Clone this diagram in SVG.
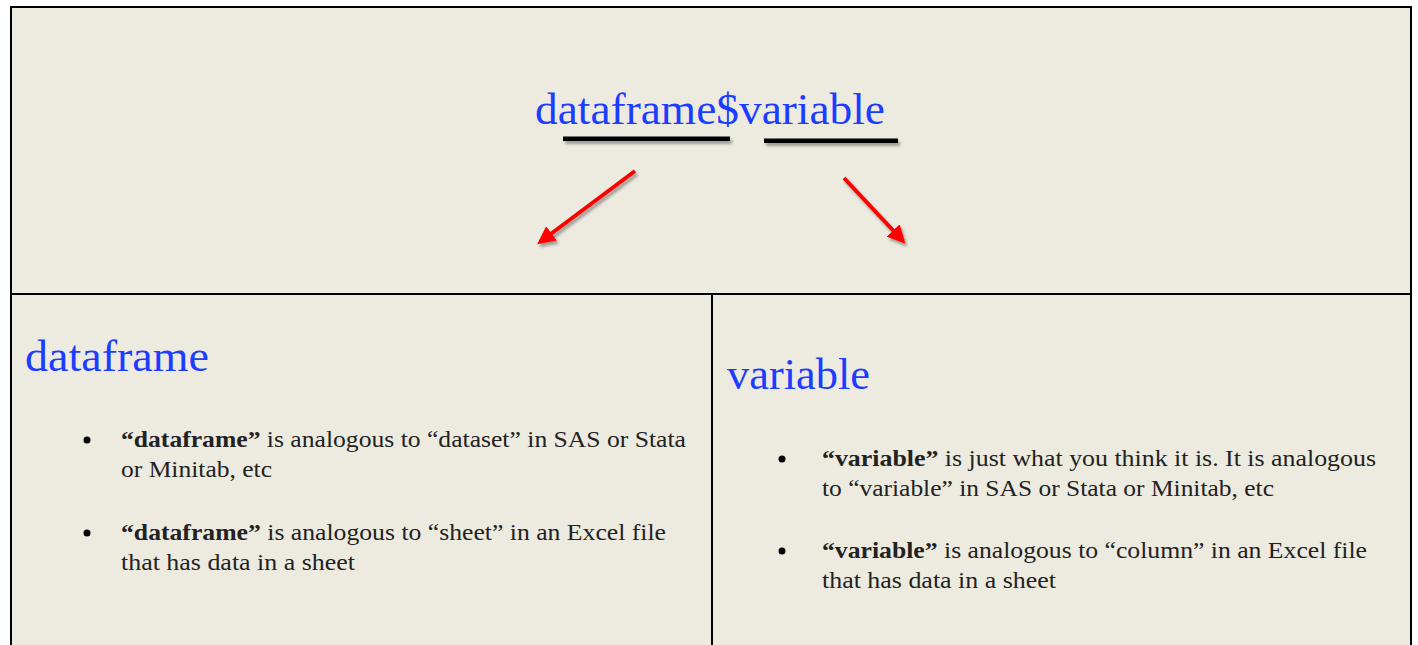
<svg xmlns="http://www.w3.org/2000/svg" width="1418" height="645" viewBox="0 0 1418 645">
  <style>
    .frame { fill: none; stroke: #000; stroke-width: 2; }
    .head { font-family: "Liberation Serif", "DejaVu Serif", serif; fill: #1c3dff; font-size: 45px; }
    .body { font-family: "Liberation Serif", "DejaVu Serif", serif; fill: #222; font-size: 24px; }
    .body .b { font-weight: bold; }
    .bar { fill: #000; filter: url(#shadow); }
    .arrow { stroke: #ff0000; stroke-width: 4; fill: none; marker-end: url(#head); filter: url(#shadow); }
  </style>
  <defs>
    <filter id="shadow" filterUnits="userSpaceOnUse" x="0" y="0" width="1418" height="645">
      <feGaussianBlur in="SourceAlpha" stdDeviation="1.5"/>
      <feOffset dx="1.5" dy="2.5" result="b"/>
      <feComponentTransfer><feFuncA type="linear" slope="0.35"/></feComponentTransfer>
      <feMerge><feMergeNode/><feMergeNode in="SourceGraphic"/></feMerge>
    </filter>
    <marker id="head" viewBox="0 0 10 10" refX="8" refY="5" markerWidth="4.5" markerHeight="4.5" orient="auto" markerUnits="strokeWidth">
      <path d="M0,0 L10,5 L0,10 Z" fill="#ff0000"/>
    </marker>
  </defs>

  <rect x="0" y="0" width="1418" height="645" fill="#ffffff"/>
  <rect x="11" y="7" width="1400" height="640" fill="#edebe0"/>

  <!-- table frame -->
  <g id="frame">
    <rect class="frame" x="11" y="7" width="1400" height="650"/>
    <line class="frame" x1="11" y1="294" x2="1411" y2="294"/>
    <line class="frame" x1="712" y1="294" x2="712" y2="645"/>
  </g>

  <!-- expression at the top -->
  <g id="expression">
    <text class="head" x="535" y="124" textLength="350" lengthAdjust="spacingAndGlyphs">dataframe$variable</text>
    <rect class="bar" x="563" y="136.5" width="167" height="4.5"/>
    <rect class="bar" x="764" y="138.5" width="134" height="4.5"/>
  </g>

  <!-- connectors -->
  <g id="connectors">
    <line class="arrow" x1="635" y1="171" x2="540" y2="242"/>
    <line class="arrow" x1="844" y1="178" x2="903" y2="241"/>
  </g>

  <!-- dataframe cell -->
  <g id="dataframe-cell">
    <text class="head" x="25" y="371" textLength="184" lengthAdjust="spacingAndGlyphs">dataframe</text>
    <circle cx="87" cy="440" r="3.5" fill="#000"/>
    <text class="body" x="121" y="447" textLength="565" lengthAdjust="spacingAndGlyphs"><tspan class="b">“dataframe”</tspan> is analogous to “dataset” in SAS or Stata</text>
    <text class="body" x="121" y="477" textLength="151" lengthAdjust="spacingAndGlyphs">or Minitab, etc</text>
    <circle cx="87" cy="533" r="3.5" fill="#000"/>
    <text class="body" x="121" y="540" textLength="545" lengthAdjust="spacingAndGlyphs"><tspan class="b">“dataframe”</tspan> is analogous to “sheet” in an Excel file</text>
    <text class="body" x="121" y="570" textLength="234" lengthAdjust="spacingAndGlyphs">that has data in a sheet</text>
  </g>

  <!-- variable cell -->
  <g id="variable-cell">
    <text class="head" x="727" y="389" textLength="143" lengthAdjust="spacingAndGlyphs">variable</text>
    <circle cx="782" cy="459" r="3.5" fill="#000"/>
    <text class="body" x="822" y="466" textLength="554" lengthAdjust="spacingAndGlyphs"><tspan class="b">“variable”</tspan> is just what you think it is.  It is analogous</text>
    <text class="body" x="822" y="496" textLength="452" lengthAdjust="spacingAndGlyphs">to “variable” in SAS or Stata or Minitab, etc</text>
    <circle cx="782" cy="551" r="3.5" fill="#000"/>
    <text class="body" x="822" y="558" textLength="545" lengthAdjust="spacingAndGlyphs"><tspan class="b">“variable”</tspan> is analogous to “column” in an Excel file</text>
    <text class="body" x="822" y="588" textLength="234" lengthAdjust="spacingAndGlyphs">that has data in a sheet</text>
  </g>
</svg>
